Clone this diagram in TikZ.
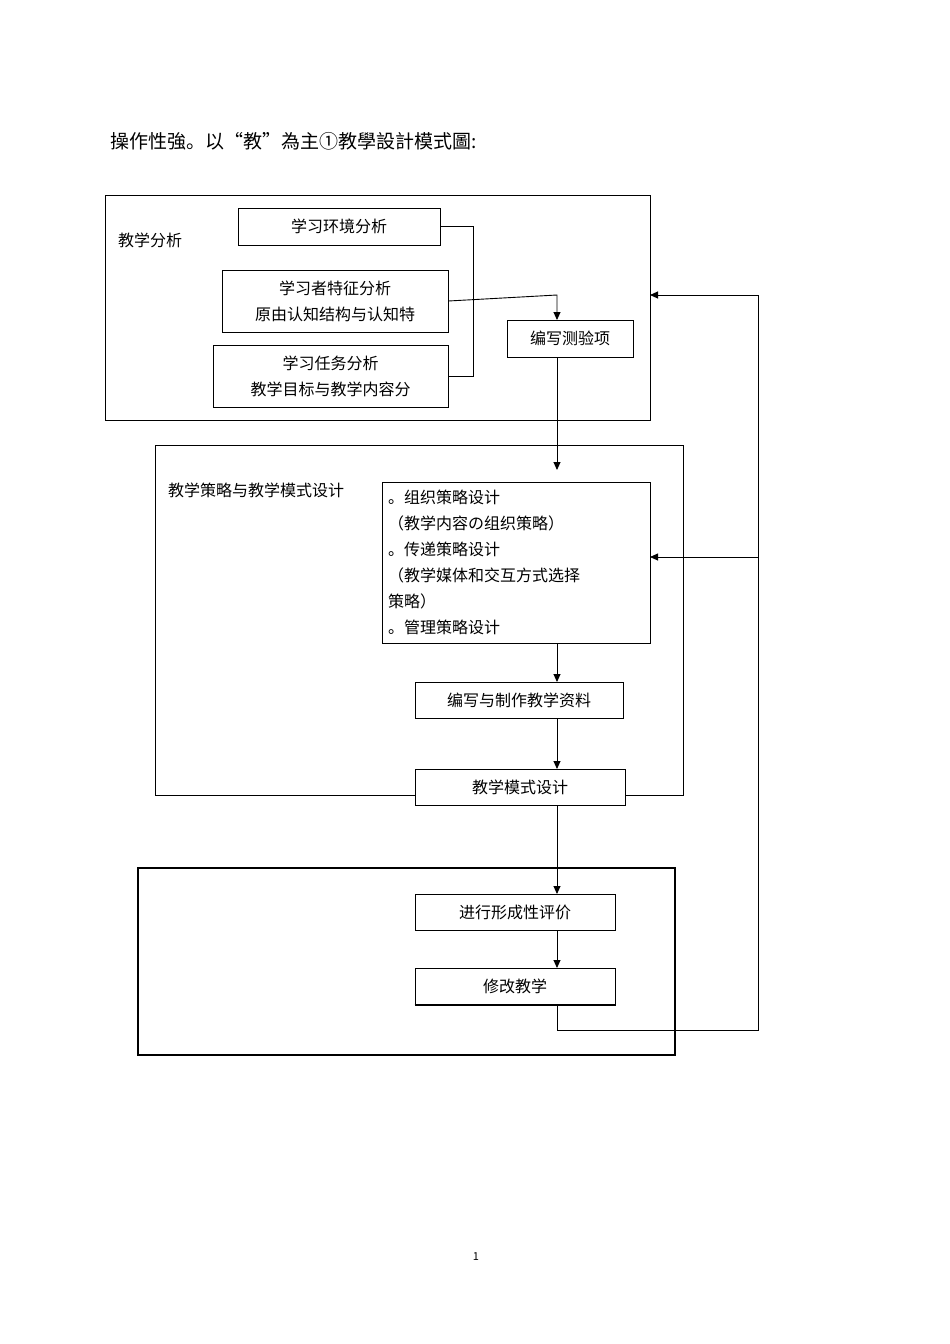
\documentclass[tikz,border=0pt]{standalone}
\usepackage{fontspec}
\setmainfont{Noto Sans CJK SC}
\usetikzlibrary{arrows.meta}
\begin{document}
\begin{tikzpicture}[x=1pt,y=-1pt,font=\fontsize{16}{26}\selectfont,
  bx/.style={draw,line width=0.9pt},
  lab/.style={inner sep=0pt},
  ar/.style={-{Triangle[length=8pt,width=7pt]},line width=0.9pt},
  ln/.style={line width=0.9pt}]
\useasboundingbox (0,0) rectangle (950,1344);
\node[lab,anchor=west,font=\fontsize{19}{22}\selectfont] (title) at (110,141) {操作性強。以“教”為主①教學設計模式圖:};
% outer frames
\draw[ln] (105,195) rectangle (650,420);
\draw[ln] (155,445) rectangle (683,795);
\draw[line width=1.3pt] (138,868) rectangle (675,1055);
\node[lab,anchor=west] (l1) at (118,240) {教学分析};
\node[lab,anchor=west] (l2) at (168,490) {教学策略与教学模式设计};
% boxes
\node[bx,minimum width=202pt,minimum height=37pt] (A) at (339,226.5) {学习环境分析};
\node[bx,minimum width=226pt,minimum height=62pt,align=center] (B) at (335,301) {学习者特征分析\\原由认知结构与认知特};
\node[bx,minimum width=235pt,minimum height=62pt,align=center] (C) at (330.5,376) {学习任务分析\\教学目标与教学内容分};
\node[bx,minimum width=126pt,minimum height=37pt] (T) at (570,338.5) {编写测验项};
\node[bx,minimum width=268pt,minimum height=161pt,align=left,text width=256pt,font=\fontsize{16}{26}\selectfont] (D) at (516,562.5) {。组织策略设计\\（教学内容の组织策略）\\。传递策略设计\\（教学媒体和交互方式选择\\策略）\\。管理策略设计};
\node[bx,minimum width=208pt,minimum height=36pt] (E) at (519,700) {编写与制作教学资料};
\node[bx,fill=white,minimum width=210pt,minimum height=36pt] (F) at (520,787) {教学模式设计};
\node[bx,minimum width=200pt,minimum height=36pt] (G) at (515,912) {进行形成性评价};
\node[bx,minimum width=200pt,minimum height=37pt] (H) at (515,986.5) {修改教学};
\draw[line width=2pt] (H.south west) -- (H.south east);
% connectors
\coordinate (jx) at (473,0);
\draw[ln] (A.east) -- (A.east -| jx) -- (C.east -| jx) -- (C.east);
\draw[ar] (B.east) -- (557,295) -- (557,320);
\draw[ar] (557,357) -- (557,470);
\draw[ar] (557,643) -- (557,682);
\draw[ar] (557,718) -- (557,769);
\draw[ar] (557,805) -- (557,894);
\draw[ar] (557,930) -- (557,968);
\coordinate (r1) at (758,1030);
\draw[ar] (557,1005) -- (557,1030) -- (r1) -- (758,295) -- (650,295);
\draw[ar] (758,557) -- (650,557);
\node[lab,font=\fontsize{11}{12}\selectfont] (pg) at (476,1257) {1};
\end{tikzpicture}
\end{document}
